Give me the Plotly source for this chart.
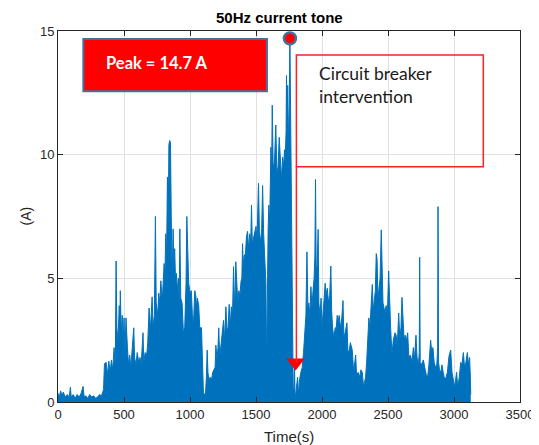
import plotly.graph_objects as go

# Upper envelope of the 50 Hz current tone (time in s, current in A)
time_s = [
    0, 10, 20, 30, 40, 55, 70, 85, 94, 100, 115, 130, 145, 160, 175, 190, 198, 210, 225, 240,
    255, 270, 285, 300, 315, 330, 345, 352, 365, 375, 385, 395, 405, 415, 425, 434, 440, 446, 455, 464,
    468, 472, 479, 487, 494, 500, 508, 515, 526, 534, 543, 552, 560, 574, 580, 591, 600, 612, 621, 630,
    644, 650, 660, 672, 680, 690, 700, 713, 720, 730, 738, 744, 755, 763, 771, 779, 790, 797, 804, 810,
    816, 822, 829, 835, 840, 846, 852, 858, 865, 872, 878, 884, 890, 897, 905, 912, 918, 923, 930, 940,
    950, 960, 970, 976, 982, 990, 1001, 1010, 1018, 1026, 1036, 1044, 1050, 1056, 1066, 1074, 1087, 1095, 1102, 1110,
    1118, 1124, 1130, 1136, 1143, 1153, 1163, 1172, 1183, 1190, 1196, 1205, 1212, 1218, 1225, 1235, 1245, 1254, 1262, 1272,
    1280, 1288, 1297, 1305, 1313, 1322, 1330, 1338, 1347, 1355, 1362, 1370, 1378, 1387, 1393, 1398, 1404, 1410, 1420, 1428,
    1436, 1444, 1453, 1460, 1466, 1472, 1480, 1491, 1500, 1508, 1519, 1526, 1535, 1543, 1550, 1558, 1566, 1575, 1580, 1586,
    1592, 1597, 1604, 1613, 1618, 1623, 1630, 1640, 1650, 1658, 1667, 1676, 1685, 1693, 1702, 1710, 1716, 1722, 1728, 1731,
    1736, 1740, 1746, 1752, 1757, 1762, 1768, 1773, 1777, 1782, 1788, 1792, 1796, 1805, 1815, 1822, 1830, 1840, 1850, 1860,
    1870, 1878, 1886, 1893, 1900, 1908, 1916, 1924, 1932, 1940, 1946, 1951, 1956, 1963, 1971, 1976, 1985, 1993, 2000, 2008,
    2015, 2024, 2030, 2040, 2050, 2058, 2067, 2073, 2080, 2090, 2100, 2108, 2115, 2122, 2130, 2140, 2150, 2159, 2166, 2175,
    2189, 2196, 2205, 2215, 2229, 2240, 2255, 2262, 2275, 2285, 2295, 2305, 2315, 2322, 2330, 2338, 2346, 2355, 2363, 2372,
    2381, 2388, 2395, 2404, 2411, 2417, 2424, 2432, 2440, 2449, 2455, 2462, 2470, 2477, 2486, 2495, 2505, 2512, 2520, 2530,
    2540, 2553, 2562, 2570, 2581, 2590, 2598, 2606, 2614, 2622, 2630, 2640, 2649, 2658, 2670, 2682, 2692, 2700, 2712, 2720,
    2730, 2737, 2740, 2744, 2752, 2768, 2778, 2790, 2800, 2810, 2823, 2830, 2840, 2850, 2860, 2870, 2876, 2879, 2883, 2890,
    2900, 2909, 2918, 2930, 2940, 2950, 2962, 2975, 2985, 2995, 3005, 3012, 3020, 3028, 3040, 3051, 3060, 3071, 3080, 3090,
    3101, 3110, 3118, 3124, 3127,
]
current_a = [
    0.35, 0.2, 0.45, 0.25, 0.4, 0.2, 0.3, 0.2, 0.6, 0.2, 0.3, 0.15, 0.3, 0.2, 0.35, 0.63, 0.2, 0.25, 0.15, 0.3,
    0.2, 0.25, 0.15, 0.2, 0.3, 0.25, 0.5, 1.55, 1.6, 1.1, 1.65, 1.2, 1.7, 1.3, 2.2, 1.4, 5.7, 3.0, 2.5, 3.9,
    2.6, 4.5, 2.8, 3.5, 2.4, 3.4, 2.0, 3.4, 2.2, 1.5, 1.9, 1.4, 2.0, 3.0, 1.8, 1.5, 2.0, 1.6, 1.8, 1.5,
    2.8, 1.6, 2.0, 1.9, 2.4, 3.8, 2.9, 4.25, 3.0, 3.5, 7.5, 4.0, 3.5, 4.4, 4.0, 4.9, 4.1, 5.0, 5.6, 5.0,
    6.8, 5.5, 9.1, 7.0, 10.4, 10.57, 10.5, 7.5, 5.0, 7.0, 5.5, 6.2, 5.0, 5.2, 4.5, 5.0, 4.0, 7.0, 4.2, 4.0,
    2.8, 3.0, 4.8, 7.5, 6.0, 4.8, 4.4, 4.5, 3.5, 3.1, 4.5, 4.3, 3.8, 4.2, 3.9, 3.0, 3.0, 1.5, 0.35, 0.3,
    0.4, 1.0, 2.1, 1.2, 0.9, 1.0, 0.9, 1.2, 1.3, 1.4, 2.3, 1.7, 2.2, 3.0, 1.8, 2.4, 2.8, 3.3, 2.5, 3.85,
    2.9, 3.0, 3.95, 3.0, 3.85, 3.5, 5.47, 3.6, 5.67, 4.7, 4.0, 4.5, 4.3, 4.9, 5.0, 6.4, 5.5, 5.9, 6.0, 6.7,
    6.9, 6.2, 6.8, 6.4, 7.96, 6.4, 6.6, 6.8, 7.1, 6.6, 8.85, 6.8, 6.5, 7.0, 8.75, 6.8, 5.5, 4.8, 1.4, 5.0,
    7.0, 7.96, 7.3, 10.3, 9.0, 12.0, 9.5, 9.7, 11.2, 9.3, 9.5, 10.7, 9.6, 9.0, 9.9, 9.5, 10.2, 9.9, 11.0, 13.2,
    11.0, 12.8, 10.5, 12.0, 14.7, 11.0, 10.2, 6.0, 0.7, 0.4, 0.6, 1.4, 0.1, 0.6, 1.0, 0.3, 0.9, 1.2, 1.4, 2.0,
    2.9, 3.5, 6.07, 3.8, 4.0, 3.5, 4.66, 3.8, 4.5, 5.0, 5.9, 9.0, 5.4, 5.5, 6.98, 4.0, 3.5, 4.2, 3.0, 3.8,
    4.1, 4.8, 4.3, 4.6, 4.0, 4.3, 5.5, 3.7, 3.0, 2.6, 3.0, 3.0, 3.5, 3.2, 3.5, 3.0, 3.4, 4.1, 2.6, 2.8,
    3.2, 2.1, 2.0, 2.4, 2.1, 1.2, 1.9, 1.1, 1.2, 1.0, 1.3, 1.2, 0.6, 0.8, 1.0, 1.6, 2.8, 3.4, 3.0, 3.7,
    4.75, 3.7, 4.0, 4.5, 6.0, 5.8, 4.2, 4.5, 5.0, 6.96, 5.0, 4.0, 3.8, 3.6, 3.9, 3.5, 5.3, 3.8, 3.0, 1.9,
    2.5, 2.8, 2.7, 2.2, 3.6, 2.5, 3.0, 4.23, 3.3, 2.5, 2.7, 2.5, 2.8, 1.8, 1.9, 1.6, 2.2, 1.7, 2.7, 1.8,
    1.5, 2.0, 5.85, 1.6, 1.5, 1.7, 1.4, 1.1, 1.0, 1.5, 2.5, 2.1, 2.2, 1.6, 1.4, 1.5, 2.2, 7.9, 1.6, 1.3,
    1.2, 1.5, 1.2, 0.9, 1.0, 1.2, 1.85, 2.1, 1.2, 0.9, 0.6, 0.9, 1.2, 0.6, 1.0, 1.6, 1.5, 2.0, 1.4, 1.6,
    2.0, 1.5, 1.8, 1.0, 0.3,
]

peak_time = [1757]
peak_value = [14.7]
breaker_time = [1800]
breaker_value = [1.6]

x_ticks = [0, 500, 1000, 1500, 2000, 2500, 3000, 3500]
y_ticks = [0, 5, 10, 15]

BLUE = "#0072BD"
AXIS = "#262626"
GRID = "#E1E1E1"
SANS = "Arial, 'Liberation Sans', sans-serif"
CAL = "Lato, 'Open Sans', sans-serif"

fig = go.Figure()
fig.add_trace(go.Scatter(
    x=time_s, y=current_a, mode="lines",
    line=dict(color=BLUE, width=1), fill="tozeroy", fillcolor=BLUE,
    hoverinfo="skip", showlegend=False,
))

# Red line from breaker marker up to the callout box, and the callout boxes
fig.add_shape(type="line", x0=1806, x1=1806, y0=breaker_value[0], y1=9.51,
              line=dict(color="#FF2020", width=1.5), layer="above")
fig.add_shape(type="rect", x0=1806, x1=3222, y0=9.51, y1=14.03,
              line=dict(color="#FF2020", width=1.5), fillcolor="rgba(0,0,0,0)", layer="above")
fig.add_shape(type="rect", x0=192, x1=1583, y0=12.56, y1=14.68,
              line=dict(color="#41719C", width=2), fillcolor="#FF0000", layer="above")

fig.add_trace(go.Scatter(
    x=peak_time, y=peak_value, mode="markers",
    marker=dict(symbol="circle", size=12, color="#FF0000", line=dict(color="#41719C", width=2.5)),
    hoverinfo="skip", showlegend=False,
))
fig.add_trace(go.Scatter(
    x=breaker_time, y=breaker_value, mode="markers",
    marker=dict(symbol="triangle-down", size=16, color="#FF0000", line=dict(width=0)),
    hoverinfo="skip", showlegend=False,
))

fig.add_annotation(x=348, y=13.72, xref="x", yref="y", text="<b>Peak = 14.7 A</b>",
                   showarrow=False, xanchor="left", yanchor="middle",
                   font=dict(family=CAL, size=16.5, color="white"))
fig.add_annotation(x=1960, y=13.8, xref="x", yref="y", text="Circuit breaker<br>intervention",
                   showarrow=False, xanchor="left", yanchor="top", align="left",
                   font=dict(family=CAL, size=17.5, color="#1a1a1a"))

# Title and axis labels
fig.add_annotation(x=0.4805, y=1, xref="paper", yref="paper", yshift=14,
                   text="<b>50Hz current tone</b>", showarrow=False,
                   xanchor="center", yanchor="middle",
                   font=dict(family=SANS, size=15, color="#000000"))
fig.add_annotation(x=-0.0714, y=0.5, xref="paper", yref="paper", text="(A)", textangle=-90,
                   showarrow=False, xanchor="center", yanchor="middle",
                   font=dict(family=SANS, size=14, color=AXIS))
fig.add_annotation(x=0.5, y=0, xref="paper", yref="paper", yshift=-34, text="Time(s)",
                   showarrow=False, xanchor="center", yanchor="middle",
                   font=dict(family=SANS, size=15, color=AXIS))

axis_common = dict(
    showline=True, linecolor=AXIS, linewidth=1, mirror="ticks",
    ticks="inside", ticklen=5, tickcolor=AXIS, tickwidth=1,
    showgrid=True, gridcolor=GRID, gridwidth=1, zeroline=False,
    automargin=False,
    tickfont=dict(family=SANS, size=13, color=AXIS),
)
fig.update_xaxes(range=[0, 3500], tickvals=x_ticks, ticktext=[str(v) for v in x_ticks], **axis_common)
fig.update_yaxes(range=[0, 15], tickvals=y_ticks, ticktext=[str(v) for v in y_ticks], **axis_common)

# The page body adds an 8 px margin, so the figure is 8 px smaller in each direction
fig.update_layout(
    width=531, height=437,
    margin=dict(l=50, r=19, t=23, b=43),
    paper_bgcolor="white", plot_bgcolor="white",
    showlegend=False,
)

fig.write_html("out.html")
